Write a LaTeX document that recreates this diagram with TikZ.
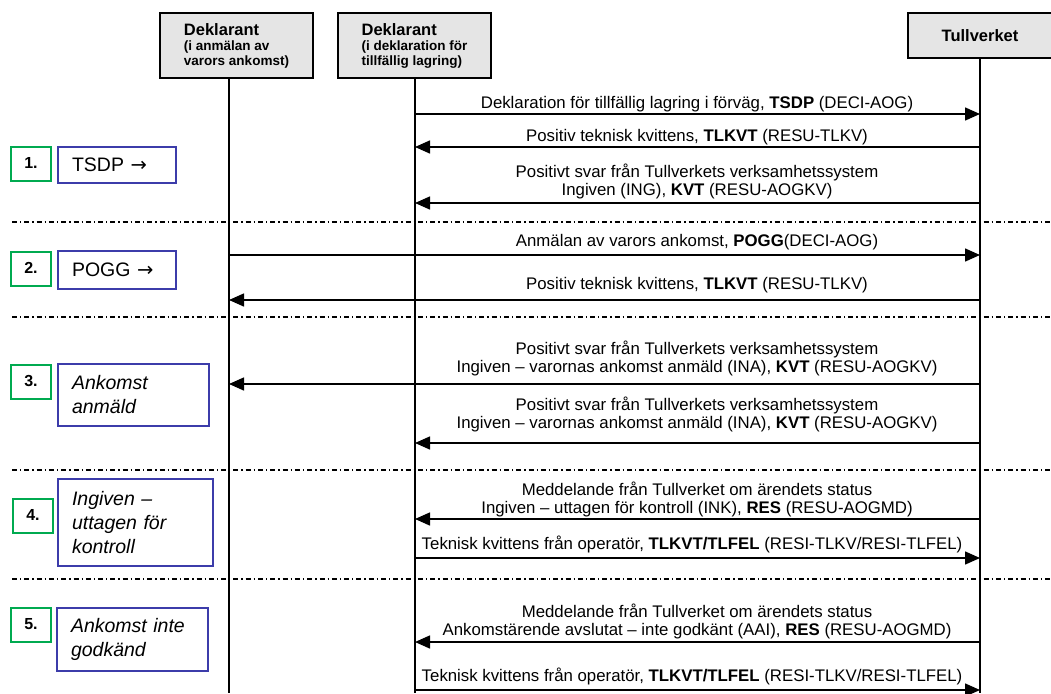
\documentclass[tikz,border=0pt]{standalone}
\usepackage{fontspec}
\setmainfont{Liberation Sans}
\newfontfamily\arrowfont{DejaVu Sans}
\usetikzlibrary{arrows.meta}

\definecolor{stepgreen}{RGB}{0,170,80}
\definecolor{stepblue}{RGB}{60,60,170}

\begin{document}
\begin{tikzpicture}[x=1pt,y=-1pt,
	actor/.style={draw,line width=2.5pt,fill=black!10,minimum height=65pt,minimum width=153pt,inner sep=0pt,align=left,font=\bfseries\fontsize{13.5}{15}\selectfont},
	lifeline/.style={line width=1.3pt},
	msg/.style={line width=1.5pt,-{Triangle[length=15pt,width=13pt]}},
	msgtext/.style={font=\fontsize{16.8}{18}\selectfont,align=center,anchor=south,inner sep=0pt,text depth=0pt},
	phase/.style={line width=1.2pt,dash pattern=on 5pt off 3pt on 1.3pt off 3pt},
	stepnum/.style={draw=stepgreen,line width=2pt,minimum width=40pt,minimum height=34pt,inner sep=0pt,text depth=2pt,font=\bfseries\fontsize{16}{18}\selectfont},
	stepdesc/.style={draw=stepblue,line width=1.5pt,inner xsep=14pt,inner ysep=0pt,align=left,font=\fontsize{19.5}{24}\selectfont}]
	\useasboundingbox (0,0) rectangle (1051,693);

	% actors
	\node[actor] (hdrA) at (236.5,45.5)	{{\fontsize{16.5}{16.5}\selectfont Deklarant}\\(i anmälan av\\varors ankomst)};
	\node[actor] (hdrB) at (414.5,45.5)	{{\fontsize{16.5}{16.5}\selectfont Deklarant}\\(i deklaration för\\tillfällig lagring)};
	\node[actor,minimum height=45pt,minimum width=144pt,align=center,font=\bfseries\fontsize{16.5}{18}\selectfont] (hdrT) at (980,35.5)	{Tullverket};

	\coordinate (endA) at (229,693);
	\coordinate (endB) at (415,693);
	\coordinate (endT) at (980,693);

	\draw[lifeline] (hdrA.south -| endA) -- (endA);
	\draw[lifeline] (hdrB.south -| endB) -- (endB);
	\draw[lifeline] (hdrT.south -| endT) -- (endT);

	% phases
	\draw[phase] (12,222) -- (1051,222);
	\draw[phase] (12,317) -- (1051,317);
	\draw[phase] (12,470) -- (1051,470);
	\draw[phase] (12,579) -- (1051,579);

	\node[stepnum] (n1) at (31,164)	{1.};
	\node[stepnum] (n2) at (31,268.5)	{2.};
	\node[stepnum] (n3) at (31,382)	{3.};
	\node[stepnum] (n4) at (33,516)	{4.};
	\node[stepnum] (n5) at (31,625)	{5.};

	\node[stepdesc,text width=90pt,minimum height=36pt] (d1) at (117,165)	{TSDP {\arrowfont →}};
	\node[stepdesc,text width=90pt,minimum height=38pt] (d2) at (117,270)	{POGG {\arrowfont →}};
	\node[stepdesc,text width=123pt,minimum height=62pt] (d3) at (133.5,395)	{\itshape Ankomst\\anmäld};
	\node[stepdesc,text width=127pt,minimum height=87pt] (d4) at (135.5,522.5)	{\itshape Ingiven –\\uttagen för\\kontroll};
	\node[stepdesc,text width=123pt,minimum height=63pt] (d5) at (132.5,639.5)	{\itshape Ankomst inte\\godkänd};

	% messages
	\coordinate (row1) at (0,114);
	\coordinate (row2) at (0,147);
	\coordinate (row3) at (0,203);
	\coordinate (row4) at (0,255);
	\coordinate (row5) at (0,300);
	\coordinate (row6) at (0,384);
	\coordinate (row7) at (0,443);
	\coordinate (row8) at (0,519);
	\coordinate (row9) at (0,558);
	\coordinate (row10) at (0,642);
	\coordinate (row11) at (0,690);

	\draw[msg] (endB |- row1) -- (endT |- row1);
	\draw[msg] (endT |- row2) -- (endB |- row2);
	\draw[msg] (endT |- row3) -- (endB |- row3);
	\draw[msg] (endA |- row4) -- (endT |- row4);
	\draw[msg] (endT |- row5) -- (endA |- row5);
	\draw[msg] (endT |- row6) -- (endA |- row6);
	\draw[msg] (endT |- row7) -- (endB |- row7);
	\draw[msg] (endT |- row8) -- (endB |- row8);
	\draw[msg] (endB |- row9) -- (endT |- row9);
	\draw[msg] (endT |- row10) -- (endB |- row10);
	\draw[msg] (endB |- row11) -- (endT |- row11);

	\node[msgtext] (m1) at (697,109)	{Deklaration för tillfällig lagring i förväg, \textbf{TSDP} (DECI-AOG)};
	\node[msgtext] (m2) at (697,142)	{Positiv teknisk kvittens, \textbf{TLKVT} (RESU-TLKV)};
	\node[msgtext] (m3) at (697,196)	{Positivt svar från Tullverkets verksamhetssystem\\Ingiven (ING), \textbf{KVT} (RESU-AOGKV)};
	\node[msgtext] (m4) at (697,247)	{Anmälan av varors ankomst, \textbf{POGG}(DECI-AOG)};
	\node[msgtext] (m5) at (697,290)	{Positiv teknisk kvittens, \textbf{TLKVT} (RESU-TLKV)};
	\node[msgtext] (m6) at (697,373)	{Positivt svar från Tullverkets verksamhetssystem\\Ingiven – varornas ankomst anmäld (INA), \textbf{KVT} (RESU-AOGKV)};
	\node[msgtext] (m7) at (697,429)	{Positivt svar från Tullverkets verksamhetssystem\\Ingiven – varornas ankomst anmäld (INA), \textbf{KVT} (RESU-AOGKV)};
	\node[msgtext] (m8) at (697,514)	{Meddelande från Tullverket om ärendets status\\Ingiven – uttagen för kontroll (INK), \textbf{RES} (RESU-AOGMD)};
	\node[msgtext] (m9) at (692,550)	{Teknisk kvittens från operatör, \textbf{TLKVT/TLFEL} (RESI-TLKV/RESI-TLFEL)};
	\node[msgtext] (m10) at (697,636)	{Meddelande från Tullverket om ärendets status\\Ankomstärende avslutat – inte godkänt (AAI), \textbf{RES} (RESU-AOGMD)};
	\node[msgtext] (m11) at (692,682)	{Teknisk kvittens från operatör, \textbf{TLKVT/TLFEL} (RESI-TLKV/RESI-TLFEL)};
\end{tikzpicture}
\end{document}
